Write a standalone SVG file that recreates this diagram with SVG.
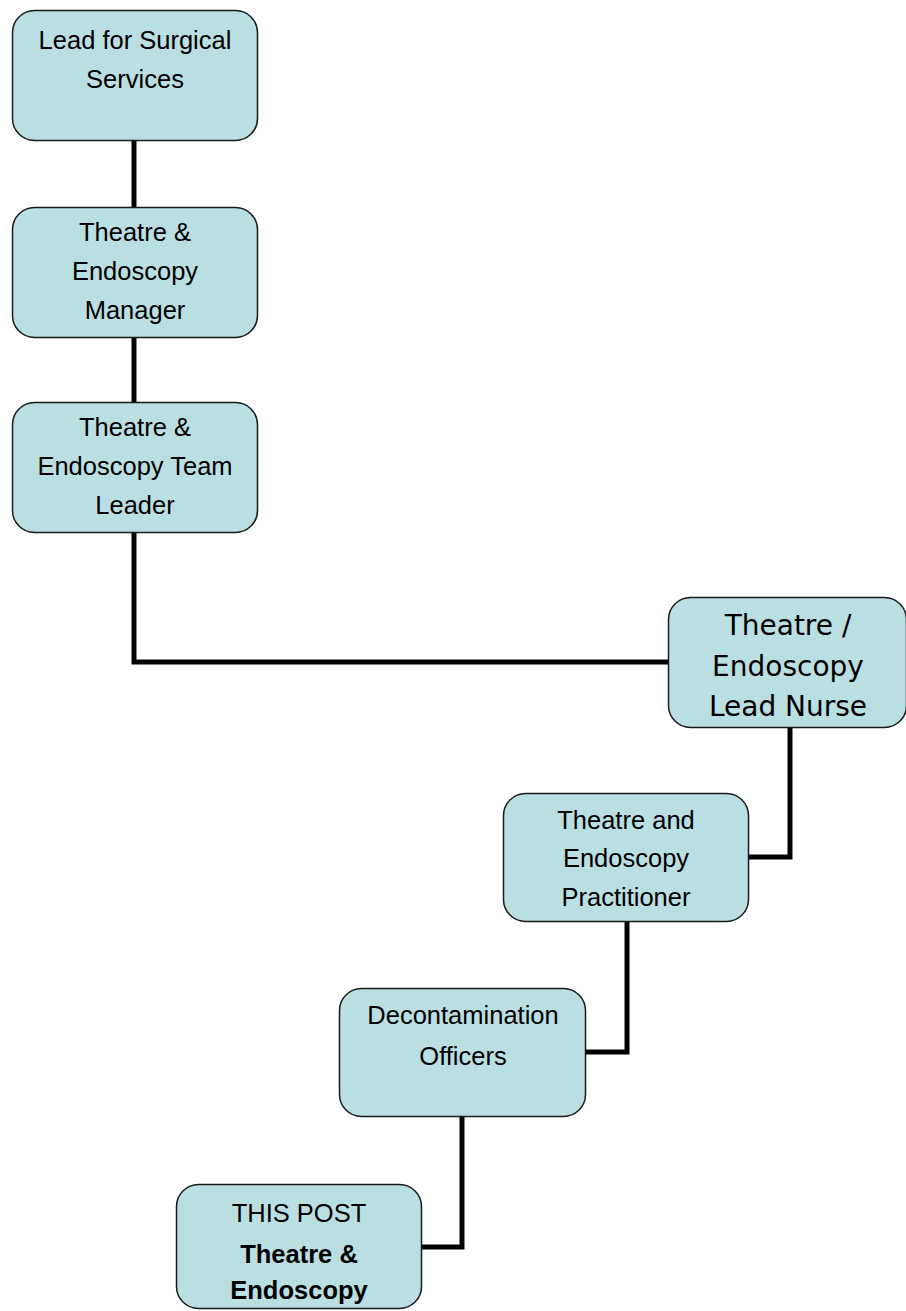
<svg xmlns="http://www.w3.org/2000/svg" width="906" height="1311" viewBox="0 0 906 1311">
<style>
.box{fill:#badfe3;stroke:#1a1a1a;stroke-width:1.5}
.t{font-family:"Liberation Sans",Arial,sans-serif;font-size:25.5px;fill:#000;text-anchor:middle}
.v{font-family:"DejaVu Sans",Verdana,sans-serif;font-size:28px;fill:#000;text-anchor:middle}
.b{font-weight:bold}
.c{fill:none;stroke:#000;stroke-width:5}
</style>
<rect width="906" height="1311" fill="#fff"/>
<g id="connectors">
<path class="c" d="M134 140V207"/>
<path class="c" d="M134 337V402"/>
<path class="c" d="M134 532V662H668"/>
<path class="c" d="M790 727V857H748"/>
<path class="c" d="M627 921V1052H586"/>
<path class="c" d="M462 1116V1247H421"/>
</g>
<g id="n1"><rect class="box" x="12.5" y="10.5" width="245" height="130" rx="22"/>
<text class="t" x="135" y="49">Lead for Surgical</text><text class="t" x="135" y="88">Services</text></g>
<g id="n2"><rect class="box" x="12.5" y="207.5" width="245" height="130" rx="22"/>
<text class="t" x="135" y="241">Theatre &amp;</text><text class="t" x="135" y="280">Endoscopy</text><text class="t" x="135" y="319">Manager</text></g>
<g id="n3"><rect class="box" x="12.5" y="402.5" width="245" height="130" rx="22"/>
<text class="t" x="135" y="436">Theatre &amp;</text><text class="t" x="135" y="475">Endoscopy Team</text><text class="t" x="135" y="514">Leader</text></g>
<g id="n4"><rect class="box" x="668.5" y="597.5" width="238" height="130" rx="22"/>
<text class="v" x="788" y="635">Theatre /</text><text class="v" x="788" y="676">Endoscopy</text><text class="v" x="788" y="716">Lead Nurse</text></g>
<g id="n5"><rect class="box" x="503.5" y="793.5" width="245" height="128" rx="22"/>
<text class="t" x="626" y="829">Theatre and</text><text class="t" x="626" y="867">Endoscopy</text><text class="t" x="626" y="906">Practitioner</text></g>
<g id="n6"><rect class="box" x="339.5" y="988.5" width="246" height="128" rx="22"/>
<text class="t" x="463" y="1024">Decontamination</text><text class="t" x="463" y="1065">Officers</text></g>
<g id="n7"><rect class="box" x="176.5" y="1184.5" width="245" height="124" rx="22"/>
<text class="t" x="299" y="1222">THIS POST</text><text class="t b" x="299" y="1263">Theatre &amp;</text><text class="t b" x="299" y="1299">Endoscopy</text></g>
</svg>
